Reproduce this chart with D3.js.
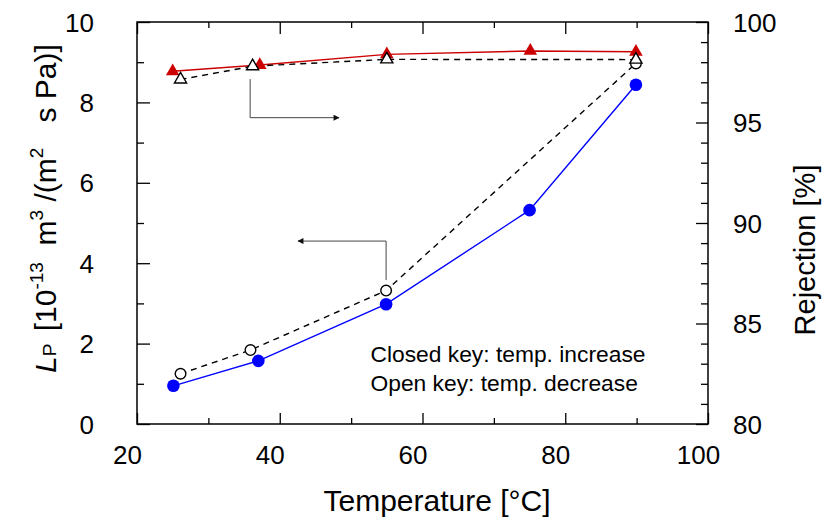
<!DOCTYPE html>
<html>
<head>
<meta charset="utf-8">
<script src="https://cdn.jsdelivr.net/npm/d3@7"></script>
<style>
  body { margin: 0; background: #fff; }
  svg { display: block; font-family: "Liberation Sans", Arial, sans-serif; }
  text { white-space: pre; }
</style>
</head>
<body>
<svg id="chart" width="831" height="521"></svg>
<script>
// ---- data ----
const tempIncrease = [25.1, 37.0, 54.9, 75.0, 89.9];
const lpIncrease   = [0.95, 1.57, 2.98, 5.32, 8.44];
const tempDecrease = [26.1, 35.9, 54.9, 89.9];
const lpDecrease   = [1.25, 1.84, 3.32, 8.97];
const tempRejIncrease = [25.0, 37.2, 55.0, 75.1, 89.9];
const rejIncrease     = [97.55, 97.86, 98.39, 98.56, 98.52];
const tempRejDecrease = [26.1, 36.2, 55.0, 89.9];
const rejDecrease     = [97.14, 97.80, 98.14, 98.13];
const xTicks = [20, 40, 60, 80, 100];
const xMinorTicks = [30, 50, 70, 90];
const yLeftTicks = [0, 2, 4, 6, 8, 10];
const yLeftMinor = [1, 3, 5, 7, 9];
const yRightTicks = [80, 85, 90, 95, 100];
const yRightMinor = [81,82,83,84,86,87,88,89,91,92,93,94,96,97,98,99];
// annotation arrows in data units: [x, y] pairs
const arrowToRight = [[35.85, 97.16], [35.85, 95.24], [48.3, 95.24]]; // rejection axis
const arrowToLeft  = [[54.9, 3.58], [54.9, 4.55], [42.56, 4.55]];      // Lp axis
const noteLines = ["Closed key: temp. increase", "Open key: temp. decrease"];

// ---- layout ----
const svg = d3.select("#chart");
const x = d3.scaleLinear().domain([20, 100]).range([137, 708]);
const yL = d3.scaleLinear().domain([0, 10]).range([424, 22]);
const yR = d3.scaleLinear().domain([80, 100]).range([424, 22]);
const FONT_TICK = 26;

// frame
svg.append("rect").attr("x", x(20)).attr("y", yL(10))
  .attr("width", x(100) - x(20)).attr("height", yL(0) - yL(10))
  .attr("fill", "none").attr("stroke", "#000").attr("stroke-width", 1.5);

function styleAxis(g) {
  g.select(".domain").remove();
  g.selectAll(".tick line").attr("stroke", "#000").attr("stroke-width", 1.3);
  g.selectAll("text").attr("font-size", FONT_TICK).attr("fill", "#000")
    .attr("font-family", "Liberation Sans, Arial, sans-serif");
}

// bottom
const gB = svg.append("g").attr("transform", `translate(0,${yL(0)})`)
  .call(d3.axisBottom(x).tickValues(xTicks).tickSize(-11).tickSizeOuter(0).tickFormat(d3.format("d")));
styleAxis(gB);
gB.selectAll("text").attr("y", 40).attr("dy", null).attr("dx", -10);
svg.append("g").attr("transform", `translate(0,${yL(0)})`)
  .call(d3.axisBottom(x).tickValues(xMinorTicks).tickSize(-6).tickFormat(""))
  .call(styleAxis);
// top
svg.append("g").attr("transform", `translate(0,${yL(10)})`)
  .call(d3.axisTop(x).tickValues(xTicks).tickSize(-12).tickFormat(""))
  .call(styleAxis);
svg.append("g").attr("transform", `translate(0,${yL(10)})`)
  .call(d3.axisTop(x).tickValues(xMinorTicks).tickSize(-6).tickFormat(""))
  .call(styleAxis);
// left
const gL = svg.append("g").attr("transform", `translate(${x(20)},0)`)
  .call(d3.axisLeft(yL).tickValues(yLeftTicks).tickSize(-13).tickFormat(d3.format("d")));
styleAxis(gL);
gL.selectAll("text").attr("x", -43).attr("dy", "0.35em");
svg.append("g").attr("transform", `translate(${x(20)},0)`)
  .call(d3.axisLeft(yL).tickValues(yLeftMinor).tickSize(-7).tickFormat(""))
  .call(styleAxis);
// right
const gR = svg.append("g").attr("transform", `translate(${x(100)},0)`)
  .call(d3.axisRight(yR).tickValues(yRightTicks).tickSize(-12).tickFormat(d3.format("d")));
styleAxis(gR);
gR.selectAll("text").attr("x", 25).attr("dy", "0.35em");
svg.append("g").attr("transform", `translate(${x(100)},0)`)
  .call(d3.axisRight(yR).tickValues(yRightMinor).tickSize(-7).tickFormat(""))
  .call(styleAxis);

// axis titles
svg.append("text").attr("x", 437).attr("y", 511).attr("text-anchor", "middle")
  .attr("font-size", 30).text("Temperature [°C]");

svg.append("text").attr("transform", "translate(815,250) rotate(-90)")
  .attr("text-anchor", "middle").attr("font-size", 29).text("Rejection [%]");

const lt = svg.append("text").attr("transform", "translate(56,373) rotate(-90)")
  .attr("font-size", 30);
lt.append("tspan").attr("font-style", "italic").text("L");
lt.append("tspan").attr("font-size", 19).text("P");
lt.append("tspan").attr("dx", 4).text(" [10");
lt.append("tspan").attr("font-size", 19).attr("dy", -13).text("-13");
lt.append("tspan").attr("dy", 13).text("  m");
lt.append("tspan").attr("font-size", 19).attr("dy", -13).text("3");
lt.append("tspan").attr("dy", 13).text(" /(m");
lt.append("tspan").attr("font-size", 19).attr("dy", -13).text("2");
lt.append("tspan").attr("dy", 13).text("   s Pa)]");

// ---- lines ----
const lineL = d3.line().x(d => x(d[0])).y(d => yL(d[1]));
const lineR = d3.line().x(d => x(d[0])).y(d => yR(d[1]));
const incL = d3.zip(tempIncrease, lpIncrease);
const decL = d3.zip(tempDecrease, lpDecrease);
const incR = d3.zip(tempRejIncrease, rejIncrease);
const decR = d3.zip(tempRejDecrease, rejDecrease);

svg.append("path").datum(incL).attr("d", lineL).attr("fill", "none")
  .attr("stroke", "#0000ff").attr("stroke-width", 1.4);
svg.append("path").datum(decL).attr("d", lineL).attr("fill", "none")
  .attr("stroke", "#000").attr("stroke-width", 1.4).attr("stroke-dasharray", "6,5");
svg.append("path").datum(incR).attr("d", lineR).attr("fill", "none")
  .attr("stroke", "#cc0000").attr("stroke-width", 1.4);
svg.append("path").datum(decR).attr("d", lineR).attr("fill", "none")
  .attr("stroke", "#000").attr("stroke-width", 1.4).attr("stroke-dasharray", "6,5");

// ---- markers ----
svg.append("g").selectAll("circle").data(incL).join("circle")
  .attr("cx", d => x(d[0])).attr("cy", d => yL(d[1])).attr("r", 6.3)
  .attr("fill", "#0000ff");
const tri = d3.symbol().type(d3.symbolTriangle).size(80);
svg.append("g").selectAll("path").data(incR).join("path")
  .attr("d", tri).attr("transform", d => `translate(${x(d[0])},${yR(d[1])})`)
  .attr("fill", "#cc0000");
svg.append("g").selectAll("circle").data(decL).join("circle")
  .attr("cx", d => x(d[0])).attr("cy", d => yL(d[1])).attr("r", 5.3)
  .attr("fill", "#fff").attr("stroke", "#000").attr("stroke-width", 1.4);
const tri2 = d3.symbol().type(d3.symbolTriangle).size(64);
svg.append("g").selectAll("path").data(decR).join("path")
  .attr("d", tri2).attr("transform", d => `translate(${x(d[0])},${yR(d[1])})`)
  .attr("fill", "#fff").attr("stroke", "#000").attr("stroke-width", 1.4);

// ---- arrows ----
const defs = svg.append("defs");
defs.append("marker").attr("id", "ah").attr("viewBox", "0 0 10 10")
  .attr("refX", 9).attr("refY", 5).attr("markerWidth", 9).attr("markerHeight", 6)
  .attr("markerUnits", "userSpaceOnUse").attr("orient", "auto")
  .append("path").attr("d", "M0,0 L10,5 L0,10 Z").attr("fill", "#111");
svg.append("path").datum(arrowToRight).attr("d", lineR).attr("fill", "none")
  .attr("stroke", "#444").attr("stroke-width", 1).attr("marker-end", "url(#ah)");
svg.append("path").datum(arrowToLeft).attr("d", lineL).attr("fill", "none")
  .attr("stroke", "#444").attr("stroke-width", 1).attr("marker-end", "url(#ah)");

// ---- note ----
svg.append("g").selectAll("text").data(noteLines).join("text")
  .attr("x", 370.5).attr("y", (d, i) => 362 + i * 29)
  .attr("font-size", 22.8).text(d => d);
</script>
</body>
</html>
